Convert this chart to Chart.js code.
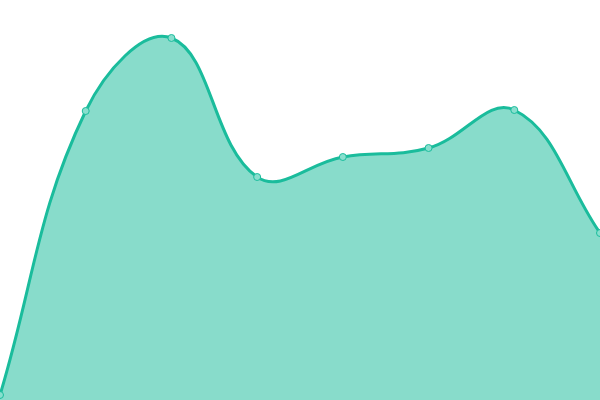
<!DOCTYPE html>
<html lang="en">
  <head>
    <meta charset="UTF-8" />
    <title>Area Chart</title>
    <script src="https://cdn.jsdelivr.net/npm/chart.js"></script>
    <style>
      * {
        margin: 0;
        padding: 0;
        box-sizing: border-box;
      }

      body {
        background: #ffffff;
      }

      .chart {
        width: 600px;
        height: 400px;
      }
    </style>
  </head>
  <body>
    <div class="chart">
      <canvas id="areaChart"></canvas>
    </div>

    <script>
      // Data
      const labels = ["1", "2", "3", "4", "5", "6", "7", "8"];
      const values = [5, 289, 362, 223, 243, 252, 290, 167];

      const ctx = document.getElementById("areaChart").getContext("2d");

      const areaChart = new Chart(ctx, {
        type: "line",
        data: {
          labels: labels,
          datasets: [
            {
              data: values,
              borderColor: "#1abc9c",
              backgroundColor: "rgba(26, 188, 156, 0.52)",
              borderWidth: 3,
              fill: "start",
              tension: 0.4,
              pointRadius: 3.5,
              pointBorderWidth: 1,
              pointBackgroundColor: "#88dfce",
              pointBorderColor: "#1abc9c",
            },
          ],
        },
        options: {
          responsive: true,
          maintainAspectRatio: false,
          animation: false,
          layout: { padding: 0, autoPadding: false },
          plugins: {
            legend: { display: false },
            tooltip: { enabled: false },
          },
          scales: {
            x: { display: false, offset: false },
            y: { display: false, min: 0, max: 400 },
          },
        },
      });
    </script>
  </body>
</html>
